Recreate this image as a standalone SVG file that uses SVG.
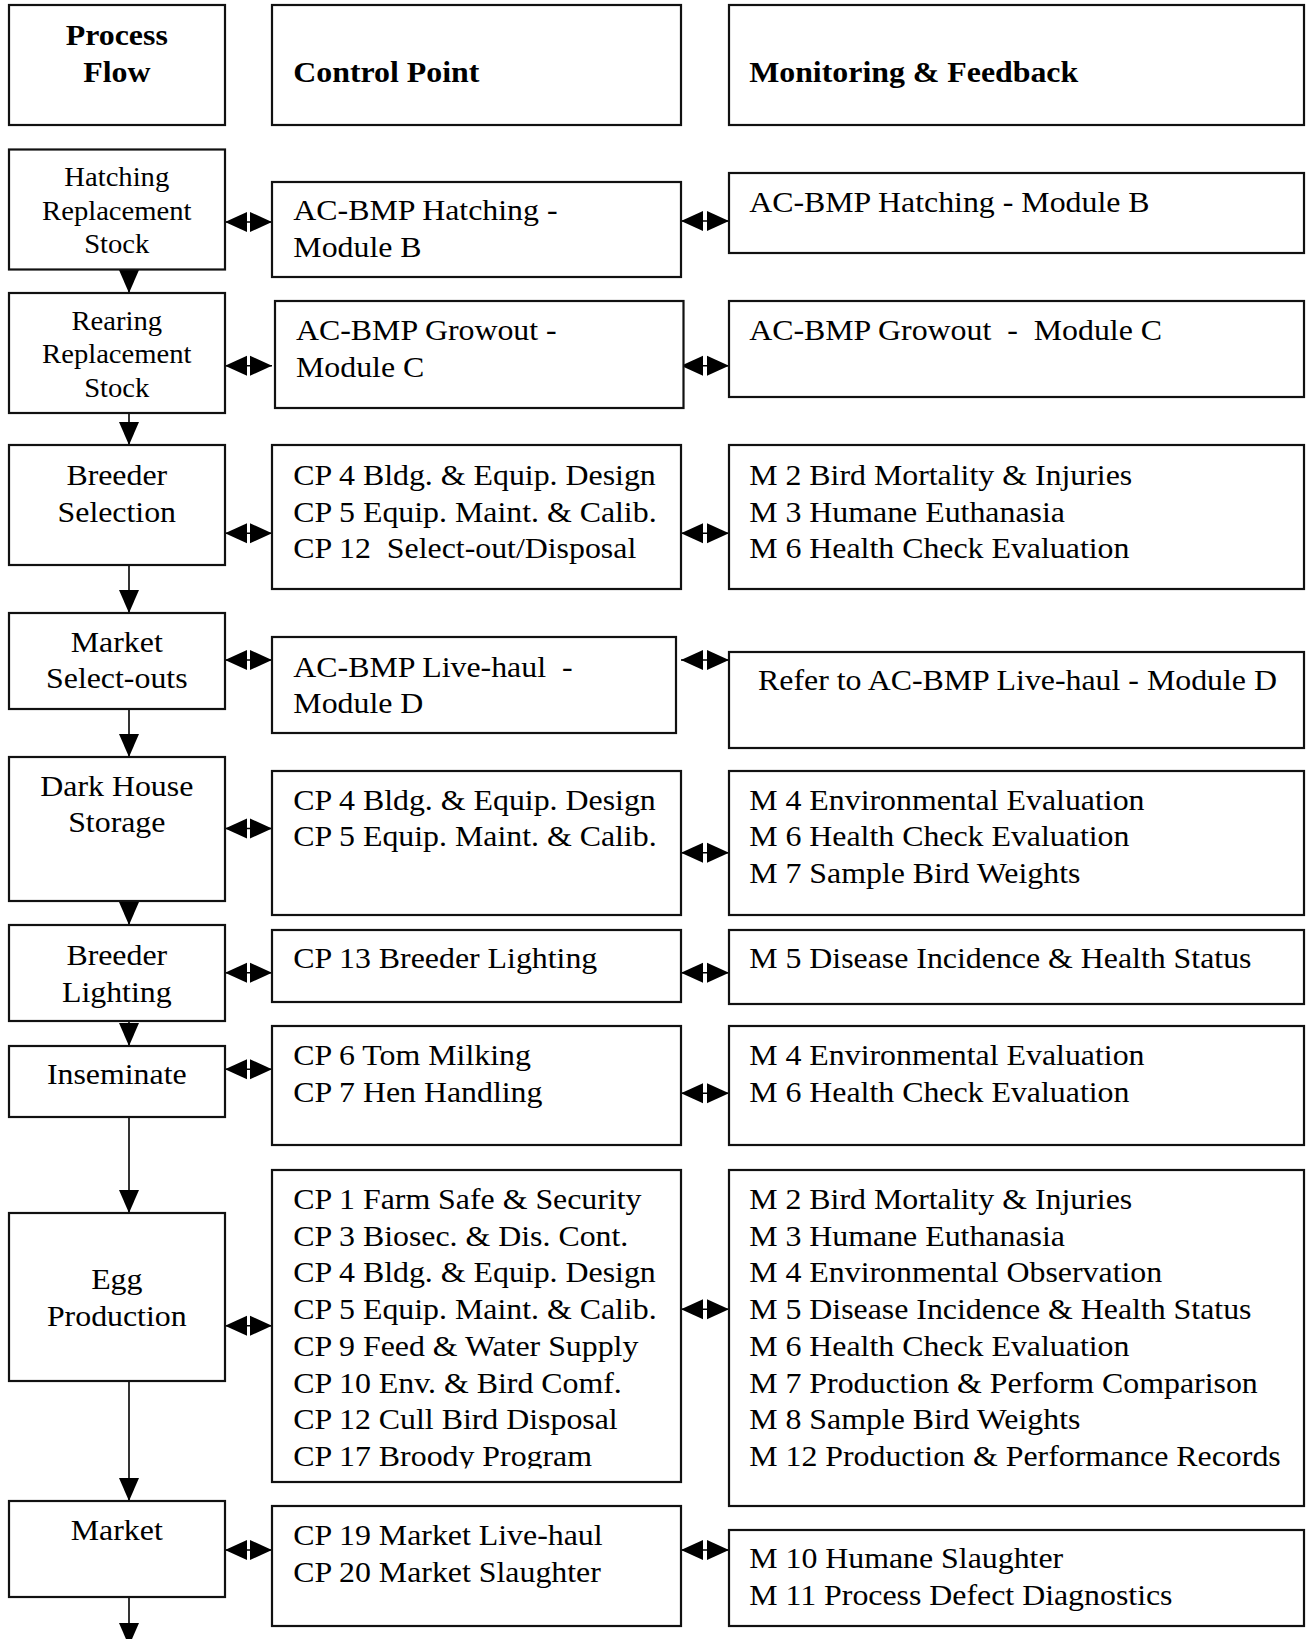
<svg xmlns="http://www.w3.org/2000/svg" width="1306" height="1639" viewBox="0 0 1306 1639">
<style>
  rect.box { fill: #fff; stroke: #111; stroke-width: 2.2; }
  text { font-family: "Liberation Serif", "Times New Roman", serif; fill: #000; }
  .hd { font-size: 29.5px; font-weight: bold; }
  .t { font-size: 29.5px; }
  .ts { font-size: 26.5px; }
  .c { text-anchor: middle; }
  .flow { stroke: #000; stroke-width: 1.6; fill: none; marker-end: url(#ah); }
  .dbl { stroke: #000; stroke-width: 1.6; fill: none; marker-start: url(#dh); marker-end: url(#dh); }
</style>
<defs>
  <marker id="ah" markerUnits="userSpaceOnUse" markerWidth="23" markerHeight="21" refX="23" refY="10.5" orient="auto">
    <path d="M0,0.5 L23,10.5 L0,20.5 z" fill="#000"/>
  </marker>
  <marker id="dh" markerUnits="userSpaceOnUse" markerWidth="22" markerHeight="21" refX="22" refY="10.5" orient="auto-start-reverse">
    <path d="M0,0.5 L22,10.5 L0,20.5 z" fill="#000"/>
  </marker>
  <clipPath id="clipEgg"><rect x="272" y="1170" width="409" height="298.5"/></clipPath>
</defs>
<rect x="0" y="0" width="1306" height="1639" fill="#fff"/>

<g id="connectors">
  <line class="flow" x1="129" y1="269.5" x2="129" y2="293"/>
  <line class="flow" x1="129" y1="413" x2="129" y2="445"/>
  <line class="flow" x1="129" y1="565" x2="129" y2="613"/>
  <line class="flow" x1="129" y1="709" x2="129" y2="757"/>
  <line class="flow" x1="129" y1="901" x2="129" y2="925"/>
  <line class="flow" x1="129" y1="1021" x2="129" y2="1046"/>
  <line class="flow" x1="129" y1="1117" x2="129" y2="1213"/>
  <line class="flow" x1="129" y1="1381" x2="129" y2="1501"/>
  <line class="flow" x1="129" y1="1597" x2="129" y2="1646"/>

  <line class="dbl" x1="225" y1="222" x2="272" y2="222"/>
  <line class="dbl" x1="225" y1="365.7" x2="272" y2="365.7"/>
  <line class="dbl" x1="225" y1="533.3" x2="272" y2="533.3"/>
  <line class="dbl" x1="225" y1="660" x2="272" y2="660"/>
  <line class="dbl" x1="225" y1="828.5" x2="272" y2="828.5"/>
  <line class="dbl" x1="225" y1="972.7" x2="272" y2="972.7"/>
  <line class="dbl" x1="225" y1="1069.3" x2="272" y2="1069.3"/>
  <line class="dbl" x1="225" y1="1325.7" x2="272" y2="1325.7"/>
  <line class="dbl" x1="225" y1="1550" x2="272" y2="1550"/>

  <line class="dbl" x1="681" y1="221" x2="729" y2="221"/>
  <line class="dbl" x1="681" y1="365.7" x2="729" y2="365.7"/>
  <line class="dbl" x1="681" y1="533.3" x2="729" y2="533.3"/>
  <line class="dbl" x1="681" y1="660" x2="729" y2="660"/>
  <line class="dbl" x1="681" y1="852.7" x2="729" y2="852.7"/>
  <line class="dbl" x1="681" y1="972.7" x2="729" y2="972.7"/>
  <line class="dbl" x1="681" y1="1093.3" x2="729" y2="1093.3"/>
  <line class="dbl" x1="681" y1="1309.3" x2="729" y2="1309.3"/>
  <line class="dbl" x1="681" y1="1550" x2="729" y2="1550"/>
</g>

<!-- Header -->
<g id="hdr-process">
  <rect class="box" x="9" y="5" width="216" height="120"/>
  <text class="hd c" transform="scale(1.08 1)" x="108.15" y="45">Process</text>
  <text class="hd c" transform="scale(1.08 1)" x="108.15" y="81.7">Flow</text>
</g>
<g id="hdr-control">
  <rect class="box" x="272" y="5" width="409" height="120"/>
  <text class="hd" transform="scale(1.08 1)" x="271.6" y="81.7">Control Point</text>
</g>
<g id="hdr-monitor">
  <rect class="box" x="729" y="5" width="575" height="120"/>
  <text class="hd" transform="scale(1.08 1)" x="693.7" y="81.7">Monitoring &amp; Feedback</text>
</g>

<!-- Process flow column -->
<g id="p-hatching">
  <rect class="box" x="9" y="149.5" width="216" height="120"/>
  <text class="ts c" transform="scale(1.08 1)" x="108.15" y="186">Hatching</text>
  <text class="ts c" transform="scale(1.08 1)" x="108.15" y="220">Replacement</text>
  <text class="ts c" transform="scale(1.08 1)" x="108.15" y="253.3">Stock</text>
</g>
<g id="p-rearing">
  <rect class="box" x="9" y="293" width="216" height="120"/>
  <text class="ts c" transform="scale(1.08 1)" x="108.15" y="330">Rearing</text>
  <text class="ts c" transform="scale(1.08 1)" x="108.15" y="363.3">Replacement</text>
  <text class="ts c" transform="scale(1.08 1)" x="108.15" y="396.7">Stock</text>
</g>
<g id="p-breeder-selection">
  <rect class="box" x="9" y="445" width="216" height="120"/>
  <text class="t c" transform="scale(1.08 1)" x="108.15" y="485">Breeder</text>
  <text class="t c" transform="scale(1.08 1)" x="108.15" y="521.7">Selection</text>
</g>
<g id="p-market-selectouts">
  <rect class="box" x="9" y="613" width="216" height="96"/>
  <text class="t c" transform="scale(1.08 1)" x="108.15" y="651.7">Market</text>
  <text class="t c" transform="scale(1.08 1)" x="108.15" y="688.3">Select-outs</text>
</g>
<g id="p-dark-house">
  <rect class="box" x="9" y="757" width="216" height="144"/>
  <text class="t c" transform="scale(1.08 1)" x="108.15" y="796">Dark House</text>
  <text class="t c" transform="scale(1.08 1)" x="108.15" y="831.7">Storage</text>
</g>
<g id="p-breeder-lighting">
  <rect class="box" x="9" y="925" width="216" height="96"/>
  <text class="t c" transform="scale(1.08 1)" x="108.15" y="965">Breeder</text>
  <text class="t c" transform="scale(1.08 1)" x="108.15" y="1001.7">Lighting</text>
</g>
<g id="p-inseminate">
  <rect class="box" x="9" y="1046" width="216" height="71"/>
  <text class="t c" transform="scale(1.08 1)" x="108.15" y="1084.3">Inseminate</text>
</g>
<g id="p-egg-production">
  <rect class="box" x="9" y="1213" width="216" height="168"/>
  <text class="t c" transform="scale(1.08 1)" x="108.15" y="1289.3">Egg</text>
  <text class="t c" transform="scale(1.08 1)" x="108.15" y="1326">Production</text>
</g>
<g id="p-market">
  <rect class="box" x="9" y="1501" width="216" height="96"/>
  <text class="t c" transform="scale(1.08 1)" x="108.15" y="1540">Market</text>
</g>

<!-- Control point column -->
<g id="c-hatching">
  <rect class="box" x="272" y="182" width="409" height="95"/>
  <text class="t" transform="scale(1.08 1)" x="271.6" y="220">AC-BMP Hatching -</text>
  <text class="t" transform="scale(1.08 1)" x="271.6" y="256.7">Module B</text>
</g>
<g id="c-growout">
  <rect class="box" x="275" y="301" width="408.5" height="107"/>
  <text class="t" transform="scale(1.08 1)" x="274.1" y="340">AC-BMP Growout -</text>
  <text class="t" transform="scale(1.08 1)" x="274.1" y="376.7">Module C</text>
</g>
<g id="c-breeder-selection">
  <rect class="box" x="272" y="445" width="409" height="144"/>
  <text class="t" transform="scale(1.08 1)" x="271.6" y="485">CP 4 Bldg. &amp; Equip. Design</text>
  <text class="t" transform="scale(1.08 1)" x="271.6" y="521.7">CP 5 Equip. Maint. &amp; Calib.</text>
  <text class="t" transform="scale(1.08 1)" x="271.6" y="557.7" xml:space="preserve">CP 12  Select-out/Disposal</text>
</g>
<g id="c-livehaul">
  <rect class="box" x="272" y="637" width="404" height="96"/>
  <text class="t" transform="scale(1.08 1)" x="271.6" y="676.7" xml:space="preserve">AC-BMP Live-haul  -</text>
  <text class="t" transform="scale(1.08 1)" x="271.6" y="712.7">Module D</text>
</g>
<g id="c-dark-house">
  <rect class="box" x="272" y="771" width="409" height="144"/>
  <text class="t" transform="scale(1.08 1)" x="271.6" y="810">CP 4 Bldg. &amp; Equip. Design</text>
  <text class="t" transform="scale(1.08 1)" x="271.6" y="846.5">CP 5 Equip. Maint. &amp; Calib.</text>
</g>
<g id="c-breeder-lighting">
  <rect class="box" x="272" y="930" width="409" height="72"/>
  <text class="t" transform="scale(1.08 1)" x="271.6" y="968.3">CP 13 Breeder Lighting</text>
</g>
<g id="c-inseminate">
  <rect class="box" x="272" y="1026" width="409" height="119"/>
  <text class="t" transform="scale(1.08 1)" x="271.6" y="1065">CP 6 Tom Milking</text>
  <text class="t" transform="scale(1.08 1)" x="271.6" y="1101.7">CP 7 Hen Handling</text>
</g>
<g id="c-egg-production">
  <rect class="box" x="272" y="1170" width="409" height="312"/>
  <g clip-path="url(#clipEgg)">
    <text class="t" transform="scale(1.08 1)" x="271.6" y="1209.3">CP 1 Farm Safe &amp; Security</text>
    <text class="t" transform="scale(1.08 1)" x="271.6" y="1245.7">CP 3 Biosec. &amp; Dis. Cont.</text>
    <text class="t" transform="scale(1.08 1)" x="271.6" y="1282.3">CP 4 Bldg. &amp; Equip. Design</text>
    <text class="t" transform="scale(1.08 1)" x="271.6" y="1319">CP 5 Equip. Maint. &amp; Calib.</text>
    <text class="t" transform="scale(1.08 1)" x="271.6" y="1355.7">CP 9 Feed &amp; Water Supply</text>
    <text class="t" transform="scale(1.08 1)" x="271.6" y="1393.3">CP 10 Env. &amp; Bird Comf.</text>
    <text class="t" transform="scale(1.08 1)" x="271.6" y="1429">CP 12 Cull Bird Disposal</text>
    <text class="t" transform="scale(1.08 1)" x="271.6" y="1465.7">CP 17 Broody Program</text>
  </g>
</g>
<g id="c-market">
  <rect class="box" x="272" y="1506" width="409" height="120"/>
  <text class="t" transform="scale(1.08 1)" x="271.6" y="1545">CP 19 Market Live-haul</text>
  <text class="t" transform="scale(1.08 1)" x="271.6" y="1581.7">CP 20 Market Slaughter</text>
</g>

<!-- Monitoring column -->
<g id="m-hatching">
  <rect class="box" x="729" y="173" width="575" height="80"/>
  <text class="t" transform="scale(1.08 1)" x="693.7" y="211.7">AC-BMP Hatching - Module B</text>
</g>
<g id="m-growout">
  <rect class="box" x="729" y="301" width="575" height="96"/>
  <text class="t" transform="scale(1.08 1)" x="693.7" y="340" xml:space="preserve">AC-BMP Growout  -  Module C</text>
</g>
<g id="m-breeder-selection">
  <rect class="box" x="729" y="445" width="575" height="144"/>
  <text class="t" transform="scale(1.08 1)" x="693.7" y="485">M 2 Bird Mortality &amp; Injuries</text>
  <text class="t" transform="scale(1.08 1)" x="693.7" y="521.7">M 3 Humane Euthanasia</text>
  <text class="t" transform="scale(1.08 1)" x="693.7" y="557.7">M 6 Health Check Evaluation</text>
</g>
<g id="m-livehaul">
  <rect class="box" x="729" y="652" width="575" height="96"/>
  <text class="t" transform="scale(1.08 1)" x="701.9" y="690">Refer to AC-BMP Live-haul - Module D</text>
</g>
<g id="m-dark-house">
  <rect class="box" x="729" y="771" width="575" height="144"/>
  <text class="t" transform="scale(1.08 1)" x="693.7" y="810">M 4 Environmental Evaluation</text>
  <text class="t" transform="scale(1.08 1)" x="693.7" y="846.5">M 6 Health Check Evaluation</text>
  <text class="t" transform="scale(1.08 1)" x="693.7" y="883.3">M 7 Sample Bird Weights</text>
</g>
<g id="m-breeder-lighting">
  <rect class="box" x="729" y="930" width="575" height="74"/>
  <text class="t" transform="scale(1.08 1)" x="693.7" y="968.3">M 5 Disease Incidence &amp; Health Status</text>
</g>
<g id="m-inseminate">
  <rect class="box" x="729" y="1026" width="575" height="119"/>
  <text class="t" transform="scale(1.08 1)" x="693.7" y="1065">M 4 Environmental Evaluation</text>
  <text class="t" transform="scale(1.08 1)" x="693.7" y="1101.7">M 6 Health Check Evaluation</text>
</g>
<g id="m-egg-production">
  <rect class="box" x="729" y="1170" width="575" height="336"/>
  <text class="t" transform="scale(1.08 1)" x="693.7" y="1209.3">M 2 Bird Mortality &amp; Injuries</text>
  <text class="t" transform="scale(1.08 1)" x="693.7" y="1245.7">M 3 Humane Euthanasia</text>
  <text class="t" transform="scale(1.08 1)" x="693.7" y="1282.3">M 4 Environmental Observation</text>
  <text class="t" transform="scale(1.08 1)" x="693.7" y="1319">M 5 Disease Incidence &amp; Health Status</text>
  <text class="t" transform="scale(1.08 1)" x="693.7" y="1355.7">M 6 Health Check Evaluation</text>
  <text class="t" transform="scale(1.08 1)" x="693.7" y="1393.3">M 7 Production &amp; Perform Comparison</text>
  <text class="t" transform="scale(1.08 1)" x="693.7" y="1429">M 8 Sample Bird Weights</text>
  <text class="t" transform="scale(1.08 1)" x="693.7" y="1465.7">M 12 Production &amp; Performance Records</text>
</g>
<g id="m-market">
  <rect class="box" x="729" y="1530" width="575" height="96"/>
  <text class="t" transform="scale(1.08 1)" x="693.7" y="1568.3">M 10 Humane Slaughter</text>
  <text class="t" transform="scale(1.08 1)" x="693.7" y="1605">M 11 Process Defect Diagnostics</text>
</g>
</svg>
